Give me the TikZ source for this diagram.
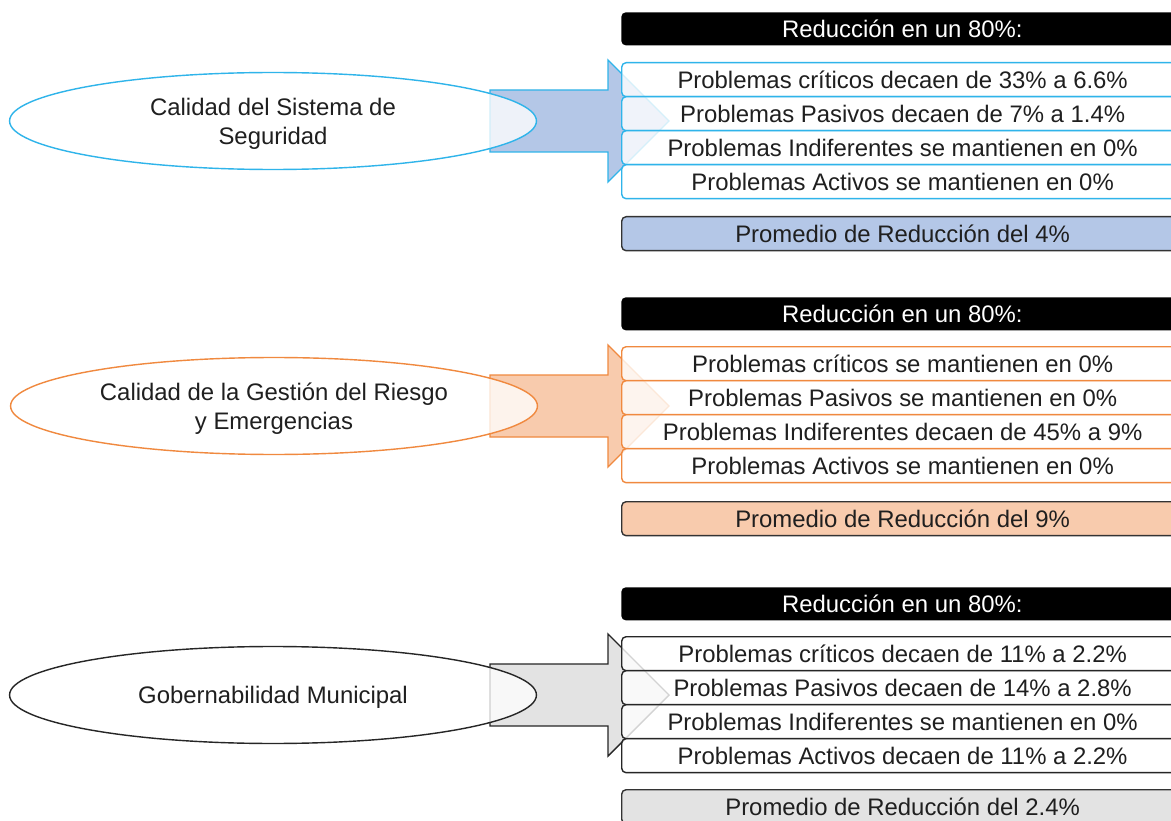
\documentclass[tikz,border=0pt]{standalone}
\usepackage{fontspec}
\setmainfont{Liberation Sans}
\usepackage{tikz}
\usetikzlibrary{shapes.geometric}
\definecolor{segline}{HTML}{2FB4EA}
\definecolor{segfill}{HTML}{B4C7E7}
\definecolor{riesline}{HTML}{F0893F}
\definecolor{riesfill}{HTML}{F8CBAD}
\definecolor{gobline}{HTML}{262626}
\definecolor{gobfill}{HTML}{E3E3E3}
\tikzset{
	txt/.style={font=\fontsize{13.6}{16.5}\selectfont, text=black!88},
	hdr/.style={txt, fill=black, text=white, rounded corners=2.5pt, minimum width=11.24cm, minimum height=0.66cm, inner sep=0pt, anchor=north west},
	item/.style={txt, draw=#1, fill=white, fill opacity=0.8, text opacity=1, rounded corners=2.5pt, minimum width=11.24cm, minimum height=0.68cm, inner sep=0pt, line width=0.8pt, anchor=north west},
	avg/.style={txt, draw=black!80, fill=#1, rounded corners=2.5pt, minimum width=11.24cm, minimum height=0.68cm, inner sep=0pt, line width=0.8pt, anchor=north west},
	oval/.style={txt, ellipse, draw=#1, fill=white, fill opacity=0.78, text opacity=1, minimum width=10.54cm, minimum height=1.94cm, inner sep=0pt, align=center, text depth=-1pt, line width=0.8pt},
	flecha/.style={draw=#1, line width=0.8pt, line join=miter}
}
\begin{document}
\begin{tikzpicture}[line cap=round,line join=round,x=0.02cm,y=-0.02cm]
	\clip (0,0) rectangle (1171,821);
	\fill[white] (0,0) rectangle (1171,821);

	\draw[flecha=segline, fill=segfill] (490,90) -- (608,90) -- (608,60) -- (669,121) -- (608,182) -- (608,152) -- (490,152) -- cycle;
	\node[oval=segline] (seg) at (273,121) {Calidad del Sistema de\\Seguridad};
	\node[hdr] (seghdr) at (621,12) {Reducción en un 80\%:};
	\node[item=segline] (seg1) at (621,62) {Problemas críticos decaen de 33\% a 6.6\%};
	\node[item=segline] (seg2) at (621,96) {Problemas Pasivos decaen de 7\% a 1.4\%};
	\node[item=segline] (seg3) at (621,130) {Problemas Indiferentes se mantienen en 0\%};
	\node[item=segline] (seg4) at (621,164) {Problemas Activos se mantienen en 0\%};
	\node[avg=segfill] (segavg) at (621,216) {Promedio de Reducción del 4\%};

	\draw[flecha=riesline, fill=riesfill] (490,375) -- (608,375) -- (608,345) -- (669,406) -- (608,467) -- (608,437) -- (490,437) -- cycle;
	\node[oval=riesline] (ries) at (274,406) {Calidad de la Gestión del Riesgo\\y Emergencias};
	\node[hdr] (rieshdr) at (621,297) {Reducción en un 80\%:};
	\node[item=riesline] (ries1) at (621,346) {Problemas críticos se mantienen en 0\%};
	\node[item=riesline] (ries2) at (621,380) {Problemas Pasivos se mantienen en 0\%};
	\node[item=riesline] (ries3) at (621,414) {Problemas Indiferentes decaen de 45\% a 9\%};
	\node[item=riesline] (ries4) at (621,448) {Problemas Activos se mantienen en 0\%};
	\node[avg=riesfill] (riesavg) at (621,501) {Promedio de Reducción del 9\%};

	\draw[flecha=gobline, fill=gobfill] (490,664) -- (608,664) -- (608,634) -- (669,695) -- (608,756) -- (608,726) -- (490,726) -- cycle;
	\node[oval=gobline] (gob) at (273,695) {Gobernabilidad Municipal};
	\node[hdr] (gobhdr) at (621,587) {Reducción en un 80\%:};
	\node[item=gobline] (gob1) at (621,636) {Problemas críticos decaen de 11\% a 2.2\%};
	\node[item=gobline] (gob2) at (621,670) {Problemas Pasivos decaen de 14\% a 2.8\%};
	\node[item=gobline] (gob3) at (621,704) {Problemas Indiferentes se mantienen en 0\%};
	\node[item=gobline] (gob4) at (621,738) {Problemas Activos decaen de 11\% a 2.2\%};
	\node[avg=gobfill] (gobavg) at (621,789) {Promedio de Reducción del 2.4\%};
\end{tikzpicture}
\end{document}
